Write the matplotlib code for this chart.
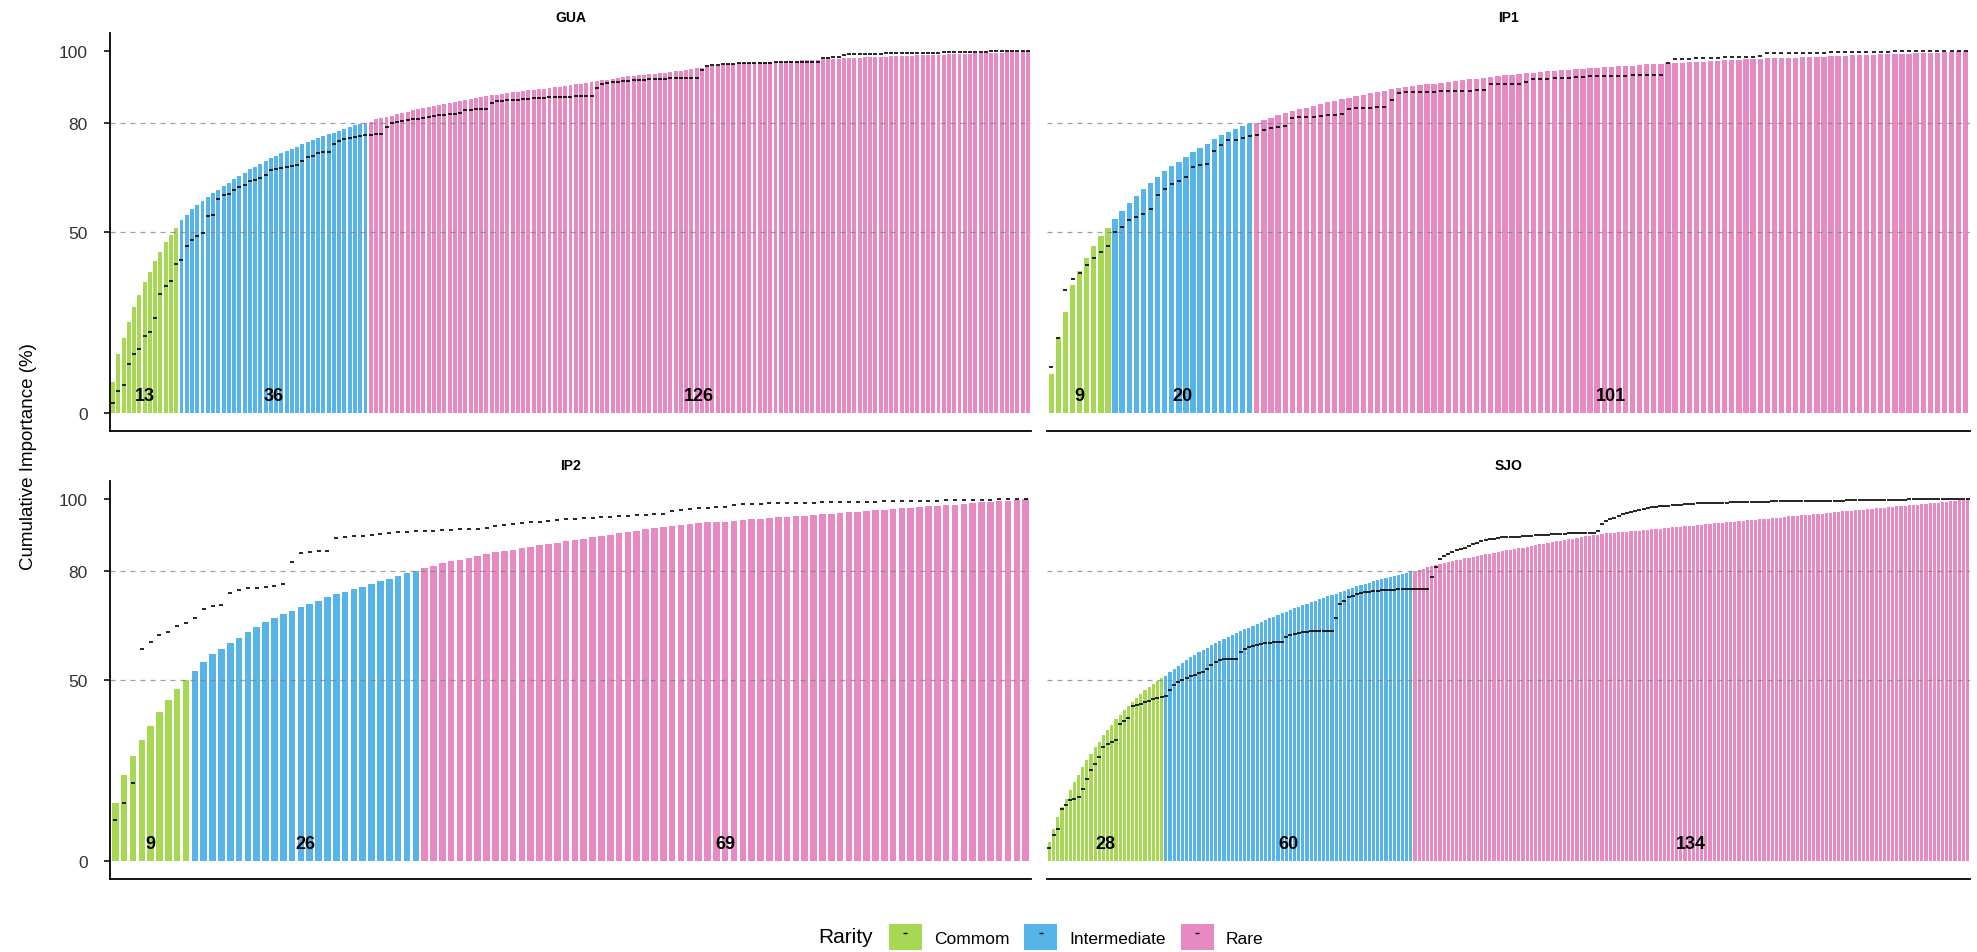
import matplotlib.pyplot as plt
from matplotlib.patches import Patch
from matplotlib.lines import Line2D

plt.rcParams["font.family"] = ["Liberation Sans", "DejaVu Sans"]

# species per rarity class: Commom, Intermediate, Rare
gua_classes = [13, 36, 126]
ip1_classes = [9, 20, 101]
ip2_classes = [9, 26, 69]
sjo_classes = [28, 60, 134]

# cumulative importance (%) per species, bars
gua_cum = [
    8.6, 16.3, 20.6, 25.0, 29.2, 32.7, 36.1, 39.0, 41.9, 44.5, 47.1, 49.3, 51.2,
    53.4, 54.8, 56.3, 57.5, 58.6, 59.7, 60.7, 61.6, 62.6, 63.5, 64.6, 65.5, 66.4, 67.3, 68.1, 68.8,
    69.6, 70.4, 71.0, 71.8, 72.3, 73.0, 73.6, 74.2, 74.8, 75.3, 75.9, 76.4, 77.0, 77.5, 78.0, 78.6,
    79.1, 79.5, 79.9, 80.2,
    80.5, 81.1, 81.5, 81.8, 82.1, 82.5, 82.9, 83.3, 83.6, 83.9, 84.2, 84.5, 84.8, 85.1, 85.4, 85.6,
    85.8, 86.1, 86.4, 86.7, 87.0, 87.3, 87.5, 87.8, 88.0, 88.2, 88.4, 88.6, 88.8, 89.0, 89.2, 89.3,
    89.4, 89.6, 89.8, 90.0, 90.2, 90.4, 90.6, 90.8, 90.9, 91.1, 91.4, 91.6, 91.9, 92.1, 92.4, 92.6,
    92.8, 93.0, 93.1, 93.3, 93.4, 93.6, 93.7, 93.9, 94.0, 94.2, 94.4, 94.6, 94.8, 95.0, 95.2, 95.4,
    95.6, 95.8, 96.0, 96.2, 96.3, 96.5, 96.6, 96.7, 96.8, 96.8, 96.9, 96.9, 97.0, 97.0, 97.1, 97.1,
    97.2, 97.3, 97.4, 97.4, 97.5, 97.6, 97.7, 97.7, 97.8, 97.9, 98.0, 98.0, 98.1, 98.2, 98.3, 98.3,
    98.4, 98.45, 98.5, 98.55, 98.6, 98.65, 98.7, 98.75, 98.8, 98.85, 98.9, 98.95, 99.0, 99.05, 99.1, 99.15,
    99.2, 99.25, 99.3, 99.35, 99.4, 99.45, 99.5, 99.55, 99.6, 99.7, 99.75, 99.85, 99.9, 100.0,
]
ip1_cum = [
    10.8, 20.6, 27.8, 35.3, 39.1, 42.7, 46.0, 48.8, 51.2,
    53.5, 55.8, 57.9, 59.9, 61.8, 63.6, 65.3, 66.8, 68.2, 69.4, 70.8, 72.0, 73.2, 74.4, 75.6, 76.7,
    77.6, 78.4, 79.2, 79.9,
    80.2, 81.0, 81.6, 82.2, 82.8, 83.4, 83.9, 84.4, 84.9, 85.3, 85.8, 86.2, 86.7, 87.1, 87.5, 87.9,
    88.3, 88.7, 89.1, 89.4, 89.7, 90.0, 90.3, 90.5, 90.8, 91.0, 91.3, 91.5, 91.7, 91.9, 92.2, 92.4,
    92.6, 92.9, 93.1, 93.3, 93.5, 93.7, 93.9, 94.0, 94.2, 94.4, 94.5, 94.7, 94.8, 95.0, 95.1, 95.2,
    95.4, 95.5, 95.6, 95.8, 95.9, 96.0, 96.1, 96.3, 96.4, 96.5, 96.6, 96.7, 96.8, 96.9, 97.0, 97.1,
    97.2, 97.3, 97.4, 97.5, 97.6, 97.7, 97.8, 97.9, 98.0, 98.0, 98.1, 98.2, 98.2, 98.3, 98.4, 98.4,
    98.5, 98.6, 98.7, 98.7, 98.8, 98.9, 98.9, 99.0, 99.1, 99.1, 99.2, 99.3, 99.3, 99.4, 99.5, 99.6,
    99.6, 99.7, 99.8, 99.9, 100.0,
]
ip2_cum = [
    16.0, 23.8, 29.1, 33.3, 37.4, 41.1, 44.6, 47.4, 50.1,
    52.6, 54.9, 57.1, 58.6, 60.3, 61.6, 63.2, 64.7, 66.0, 67.2, 68.3, 69.2, 70.2, 71.0, 71.8, 72.9,
    73.7, 74.4, 75.1, 75.8, 76.5, 77.3, 78.0, 78.8, 79.5, 80.2,
    81.0, 81.5, 82.2, 82.8, 83.3, 83.7, 84.4, 84.9, 85.3, 85.7, 86.0, 86.4, 86.8, 87.3, 87.6, 88.0,
    88.3, 88.6, 89.0, 89.4, 89.9, 90.2, 90.6, 91.0, 91.3, 91.7, 92.1, 92.4, 92.6, 92.8, 93.0, 93.3,
    93.6, 93.7, 93.8, 94.0, 94.2, 94.4, 94.5, 94.7, 95.0, 95.1, 95.3, 95.4, 95.6, 95.8, 96.0, 96.1,
    96.3, 96.5, 96.7, 96.9, 97.1, 97.2, 97.4, 97.6, 97.8, 98.0, 98.2, 98.3, 98.5, 98.7, 98.9, 99.1,
    99.3, 99.4, 99.6, 99.8, 100.0,
]
sjo_cum = [
    5.2, 8.9, 12.1, 14.9, 17.2, 19.5, 21.8, 23.8, 25.9, 28.0, 29.6, 31.5, 33.0, 34.7, 36.1, 37.6,
    39.1, 40.4, 41.6, 42.8, 43.9, 45.0, 46.1, 47.1, 48.0, 48.9, 49.8, 50.6,
    51.2, 52.1, 53.0, 53.9, 54.7, 55.5, 56.3, 57.0, 57.7, 58.3, 58.9, 59.6, 60.2, 60.8, 61.3, 61.9,
    62.4, 62.9, 63.5, 64.0, 64.5, 65.0, 65.5, 66.0, 66.5, 67.0, 67.5, 68.0, 68.4, 68.9, 69.4, 69.8,
    70.3, 70.7, 71.1, 71.5, 71.9, 72.3, 72.7, 73.1, 73.5, 73.9, 74.3, 74.7, 75.1, 75.5, 75.9, 76.2,
    76.6, 76.9, 77.3, 77.6, 77.9, 78.2, 78.5, 78.8, 79.0, 79.4, 79.7, 80.1,
    80.2, 80.5, 80.8, 81.1, 81.4, 81.7, 82.0, 82.3, 82.5, 82.8, 83.1, 83.3, 83.6, 83.8, 84.0, 84.2,
    84.5, 84.7, 84.9, 85.1, 85.4, 85.6, 85.8, 86.0, 86.2, 86.4, 86.6, 86.8, 87.1, 87.3, 87.5, 87.7,
    87.9, 88.1, 88.3, 88.5, 88.7, 88.9, 89.1, 89.3, 89.5, 89.7, 89.9, 90.0, 90.2, 90.3, 90.5, 90.6,
    90.7, 90.8, 90.9, 91.0, 91.1, 91.2, 91.3, 91.4, 91.5, 91.6, 91.7, 91.8, 91.9, 92.0, 92.2, 92.3,
    92.4, 92.5, 92.6, 92.7, 92.8, 92.9, 93.0, 93.2, 93.3, 93.4, 93.5, 93.6, 93.7, 93.8, 93.9, 94.0,
    94.1, 94.2, 94.3, 94.4, 94.5, 94.6, 94.7, 94.8, 94.9, 95.1, 95.2, 95.3, 95.4, 95.5, 95.6, 95.7,
    95.8, 95.9, 96.0, 96.1, 96.2, 96.3, 96.5, 96.6, 96.7, 96.8, 96.9, 97.0, 97.1, 97.2, 97.3, 97.4,
    97.5, 97.6, 97.7, 97.8, 98.0, 98.1, 98.2, 98.3, 98.4, 98.5, 98.6, 98.7, 98.8, 98.9, 99.0, 99.1,
    99.2, 99.4, 99.5, 99.7, 99.8, 100.0,
]

# black dash marks (second cumulative curve)
gua_dash = [
    2.7, 6.0, 7.6, 13.5, 16.3, 17.7, 21.3, 22.5, 26.1, 33.0, 35.1, 36.5, 41.1,
    42.3, 46.2, 47.9, 48.9, 49.8, 54.3, 54.7, 59.2, 60.3, 60.6, 61.6, 62.5, 63.1, 64.0, 64.4, 64.9,
    65.7, 67.0, 67.3, 67.7, 68.1, 68.3, 68.4, 69.5, 70.7, 70.9, 71.8, 72.0, 72.2, 74.4, 75.2, 75.7,
    76.1, 76.3, 76.5, 76.7,
    76.9, 77.0, 77.0, 79.0, 80.0, 80.3, 80.6, 80.9, 81.1, 81.3, 81.5, 81.9, 82.0, 82.2, 82.4, 82.5,
    82.7, 82.8, 83.7, 83.8, 83.9, 84.0, 84.0, 85.6, 86.2, 86.3, 86.4, 86.5, 86.6, 86.7, 86.8, 86.9,
    87.0, 87.1, 87.2, 87.2, 87.3, 87.4, 87.4, 87.5, 87.5, 87.6, 87.6, 89.9, 91.0, 91.2, 91.4, 91.5,
    91.7, 91.8, 91.9, 92.0, 92.1, 92.2, 92.3, 92.4, 92.4, 92.5, 92.5, 92.6, 92.6, 92.6, 92.7, 94.9,
    96.0, 96.1, 96.2, 96.4, 96.5, 96.5, 96.6, 96.6, 96.7, 96.7, 96.8, 96.8, 96.8, 96.9, 96.9, 96.9,
    97.0, 97.0, 97.0, 97.1, 97.1, 97.1, 98.0, 98.2, 98.3, 98.4, 99.0, 99.1, 99.1, 99.2, 99.2, 99.3,
    99.3, 99.3, 99.4, 99.4, 99.4, 99.5, 99.5, 99.5, 99.5, 99.6, 99.6, 99.6, 99.6, 99.7, 99.7, 99.7,
    99.7, 99.8, 99.8, 99.8, 99.8, 99.8, 99.9, 99.9, 99.9, 99.9, 99.9, 100.0, 100.0, 100.0,
]
ip1_dash = [
    12.6, 20.6, 33.9, 37.1, 38.8, 40.9, 42.7, 44.5, 46.0,
    49.9, 51.4, 53.4, 54.2, 55.1, 56.4, 60.1, 62.0, 63.2, 64.2, 65.2, 67.9, 68.4, 68.7, 72.4, 74.1,
    75.3, 75.4, 75.9, 76.4,
    76.7, 78.1, 78.8, 79.0, 79.3, 81.6, 81.7, 81.8, 81.9, 82.0, 82.2, 82.3, 82.5, 84.1, 84.2, 84.3,
    84.4, 84.5, 84.6, 86.5, 88.5, 88.6, 88.6, 88.7, 88.8, 88.8, 88.9, 89.0, 89.0, 89.1, 89.1, 89.2,
    89.2, 90.8, 90.8, 90.9, 90.9, 91.0, 91.4, 92.2, 92.3, 92.4, 92.5, 92.6, 92.7, 92.8, 92.9, 93.0,
    93.0, 93.1, 93.1, 93.2, 93.2, 93.3, 93.3, 93.3, 93.4, 93.4, 96.8, 97.7, 97.8, 97.9, 98.0, 98.1,
    98.2, 98.2, 98.3, 98.4, 98.4, 98.5, 98.5, 98.6, 99.4, 99.4, 99.5, 99.5, 99.5, 99.6, 99.6, 99.6,
    99.6, 99.7, 99.7, 99.7, 99.7, 99.8, 99.8, 99.8, 99.8, 99.8, 99.9, 99.9, 99.9, 99.9, 99.9, 99.9,
    100.0, 100.0, 100.0, 100.0, 100.0,
]
ip2_dash = [
    11.4, 16.0, 21.6, 58.6, 60.6, 62.5, 63.4, 65.0, 65.8,
    67.2, 69.5, 70.4, 70.7, 74.1, 74.8, 75.3, 75.5, 75.8, 76.1, 76.4, 82.5, 85.2, 85.5, 85.6, 85.7,
    89.2, 89.5, 89.7, 89.9, 90.2, 90.3, 90.5, 90.8, 91.0, 91.1,
    91.2, 91.3, 91.4, 91.5, 91.6, 91.7, 91.8, 91.9, 92.6, 92.8, 93.1, 93.4, 93.6, 93.8, 94.0, 94.2,
    94.4, 94.5, 94.7, 94.8, 95.0, 95.1, 95.3, 95.4, 95.6, 95.7, 95.8, 96.0, 96.6, 97.0, 97.2, 97.4,
    97.5, 97.7, 97.9, 98.5, 98.6, 98.6, 98.7, 98.8, 98.8, 98.9, 98.9, 99.0, 99.0, 99.1, 99.1, 99.2,
    99.2, 99.3, 99.3, 99.3, 99.4, 99.4, 99.5, 99.5, 99.5, 99.6, 99.6, 99.7, 99.7, 99.7, 99.8, 99.8,
    99.8, 99.9, 99.9, 100.0, 100.0,
]
sjo_dash = [
    3.6, 7.1, 8.7, 14.4, 15.4, 16.7, 17.2, 17.7, 20.0, 22.7, 25.0, 26.9, 28.7, 31.5, 32.4, 32.8,
    33.3, 37.9, 38.8, 39.6, 42.8, 43.1, 43.4, 43.9, 44.3, 44.8, 45.0, 45.3,
    45.5, 47.1, 48.5, 49.4, 49.9, 50.5, 51.1, 51.5, 52.0, 52.3, 53.1, 54.2, 54.9, 55.4, 55.7, 55.7,
    55.8, 55.8, 57.7, 58.6, 59.1, 59.3, 59.7, 59.9, 60.1, 60.3, 60.4, 60.5, 60.6, 61.8, 62.3, 62.7,
    63.0, 63.2, 63.4, 63.5, 63.6, 63.6, 63.6, 63.6, 63.6, 67.1, 71.0, 71.9, 72.9, 73.3, 73.7, 74.0,
    74.2, 74.4, 74.6, 74.7, 74.8, 74.9, 75.0, 75.0, 75.1, 75.1, 75.2, 75.2,
    75.2, 75.2, 75.2, 75.2, 78.4, 81.1, 83.4, 84.2, 84.8, 85.3, 85.8, 86.2, 86.6, 87.1, 87.5, 88.0,
    88.4, 88.7, 88.9, 89.1, 89.3, 89.4, 89.5, 89.5, 89.6, 89.6, 89.7, 89.8, 89.9, 90.0, 90.1, 90.2,
    90.2, 90.3, 90.3, 90.4, 90.4, 90.5, 90.5, 90.5, 90.6, 90.6, 90.6, 90.6, 91.3, 93.1, 94.0, 94.5,
    94.9, 95.4, 95.8, 96.1, 96.4, 96.8, 97.0, 97.3, 97.5, 97.7, 97.9, 98.0, 98.1, 98.2, 98.3, 98.4,
    98.5, 98.6, 98.6, 98.7, 98.8, 98.8, 98.9, 98.9, 99.0, 99.0, 99.0, 99.0, 99.1, 99.1, 99.1, 99.2,
    99.2, 99.2, 99.3, 99.3, 99.3, 99.3, 99.4, 99.4, 99.4, 99.4, 99.4, 99.5, 99.5, 99.5, 99.5, 99.5,
    99.5, 99.6, 99.6, 99.6, 99.6, 99.6, 99.6, 99.6, 99.7, 99.7, 99.7, 99.7, 99.7, 99.7, 99.7, 99.8,
    99.8, 99.8, 99.8, 99.8, 99.8, 99.8, 99.8, 99.9, 99.9, 99.9, 99.9, 99.9, 99.9, 99.9, 99.9, 99.9,
    100.0, 100.0, 100.0, 100.0, 100.0, 100.0,
]

rarity_labels = ["Commom", "Intermediate", "Rare"]
rarity_colors = ["#A6D854", "#56B4E9", "#E78AC3"]

W, H = 1977, 953
fig = plt.figure(figsize=(W / 100, H / 100), dpi=100)

# panel boxes in pixels: left, top, width, height
panels = [
    ("GUA", gua_classes, gua_cum, gua_dash, (110, 34, 921, 398), True),
    ("IP1", ip1_classes, ip1_cum, ip1_dash, (1047, 34, 923, 398), False),
    ("IP2", ip2_classes, ip2_cum, ip2_dash, (110, 482, 921, 398), True),
    ("SJO", sjo_classes, sjo_cum, sjo_dash, (1047, 482, 923, 398), False),
]

for title, classes, cum, dash, box, left_axis in panels:
    l, t, w, h = box
    ax = fig.add_axes([l / W, 1 - (t + h) / H, w / W, h / H])
    n = len(cum)
    x = list(range(1, n + 1))
    cols = []
    for c, k in zip(rarity_colors, classes):
        cols += [c] * k
    ax.bar(x, cum, width=0.75, color=cols, linewidth=0, zorder=1)
    for yl in (50, 80):
        ax.axhline(yl, color="#7f7f7f", lw=0.9, ls=(0, (4, 4)), alpha=0.75, zorder=2)
    ax.plot(x, dash, ls="none", marker="_", ms=3.2, mew=1.2, color="black", zorder=3)

    start = 0
    for k in classes:
        ax.text(start + (k + 1) / 2, 4.8, str(k), ha="center", va="center",
                fontsize=13, fontweight="bold", zorder=4)
        start += k

    ax.text(0.5, 1.04, title, transform=ax.transAxes, ha="center", va="center",
            fontsize=10, fontweight="bold")

    ax.set_xlim(0.4, n + 0.6)
    ax.set_ylim(-5, 105)
    ax.set_xticks([])
    for s in ("top", "right"):
        ax.spines[s].set_visible(False)
    ax.spines["bottom"].set_linewidth(1.3)
    if left_axis:
        ax.spines["left"].set_linewidth(1.3)
        ax.set_yticks([0, 50, 80, 100])
        ax.tick_params(axis="y", length=4, width=1.3, pad=12, labelsize=12.5,
                       labelcolor="#333333", color="#222222")
    else:
        ax.spines["left"].set_visible(False)
        ax.set_yticks([])

fig.text(29 / W, 1 - 457 / H, "Cumulative Importance (%)", rotation=90,
         ha="center", va="center", fontsize=13.5)

# legend at the bottom
fig.text(846 / W, 1 - 938 / H, "Rarity", ha="center", va="center", fontsize=15)
handles = []
for c in rarity_colors:
    handles.append((Patch(facecolor=c, edgecolor="none"),
                    Line2D([], [], ls="none", marker="_", ms=3, mew=1, color="black")))
fig.legend(handles, rarity_labels, loc="center left", bbox_to_anchor=(889 / W, 1 - 938 / H),
           ncol=3, frameon=False, fontsize=12.5, handlelength=1.9, handleheight=1.9,
           handletextpad=0.7, columnspacing=0.85, borderaxespad=0, borderpad=0)

fig.savefig("out.png", dpi=100)
